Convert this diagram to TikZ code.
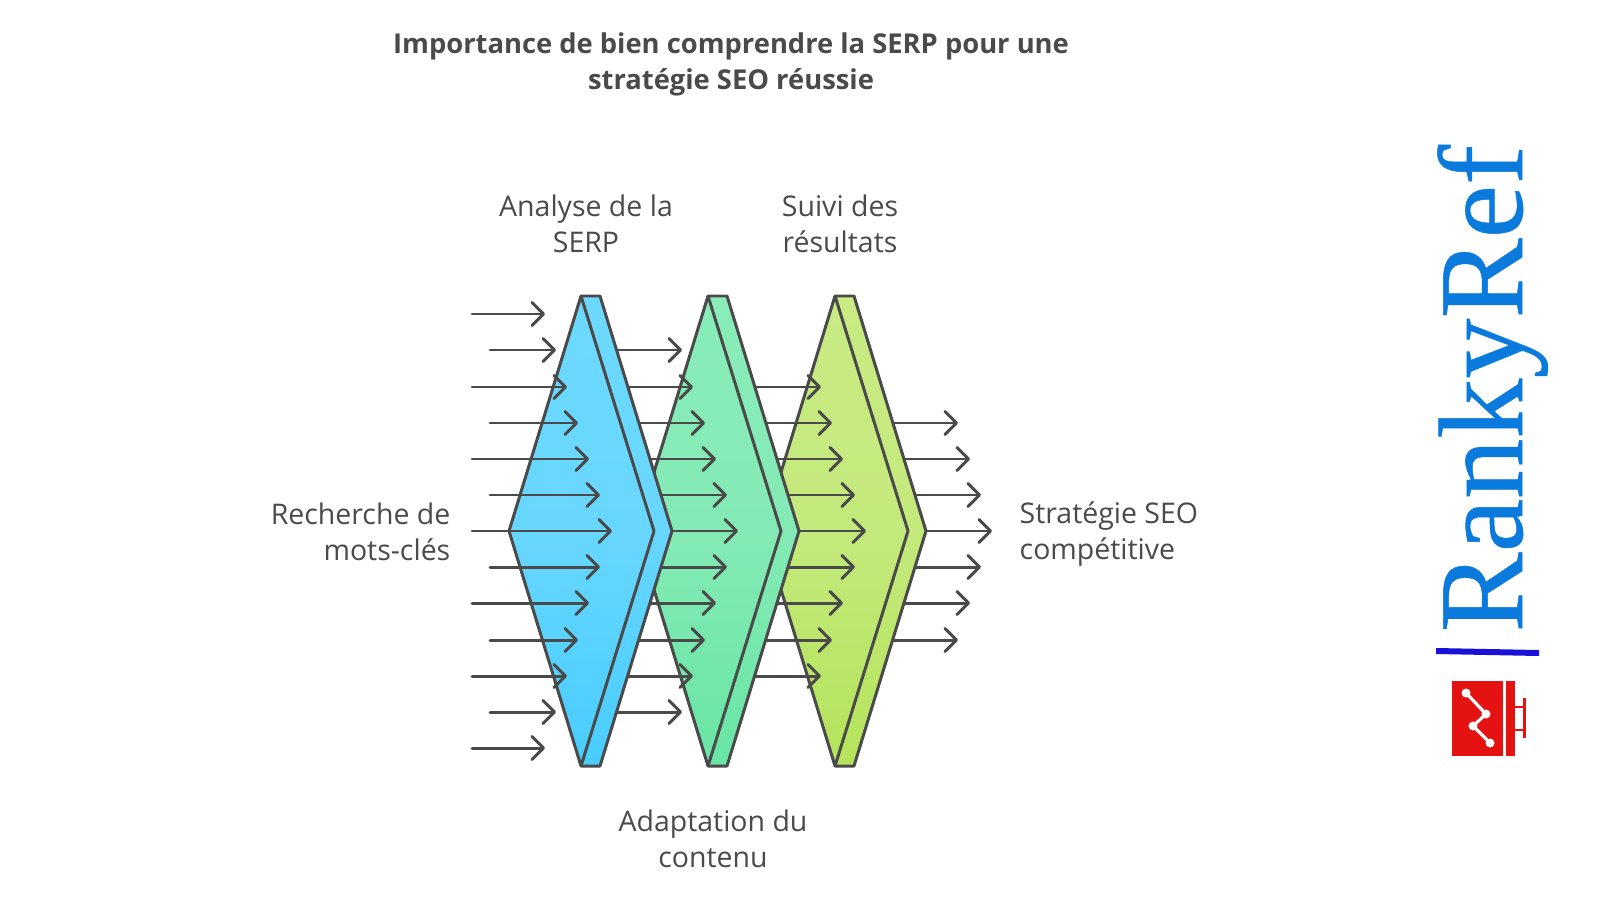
\documentclass[tikz,border=0pt]{standalone}
\usepackage{fontspec}
\usepackage{tikz}
\usetikzlibrary{arrows.meta}
\setmainfont{Open Sans}
\newfontfamily\logofont[FakeBold=0.4]{Liberation Serif}
\definecolor{inkgrey}{HTML}{4A4A4A}
\definecolor{logoblue}{HTML}{0A7BDD}
\definecolor{barblue}{HTML}{1A10D8}
\definecolor{logored}{HTML}{E51212}
\definecolor{panelbluetop}{HTML}{6DD9FF}
\definecolor{panelbluemid}{HTML}{68D7FF}
\definecolor{panelbluebot}{HTML}{48CDFF}
\definecolor{panelgreentop}{HTML}{89ECB9}
\definecolor{panelgreenmid}{HTML}{84EAB5}
\definecolor{panelgreenbot}{HTML}{68E5A5}
\definecolor{panellimetop}{HTML}{C8EB84}
\definecolor{panellimemid}{HTML}{C4E97C}
\definecolor{panellimebot}{HTML}{B4E35A}
\tikzset{
  flow/.style={draw=inkgrey,line width=0.85pt,line cap=round,
    -{Straight Barb[length=1.15mm,width=2.3mm,round]}},
  face/.style={draw=inkgrey,line width=0.85pt,line join=round},
  bluepanel/.style={face,top color=panelbluetop,bottom color=panelbluebot,middle color=panelbluemid},
  greenpanel/.style={face,top color=panelgreentop,bottom color=panelgreenbot,middle color=panelgreenmid},
  limepanel/.style={face,top color=panellimetop,bottom color=panellimebot,middle color=panellimemid},
  label/.style={text=inkgrey,inner sep=0pt,align=center,font=\fontsize{8.1}{10.24}\selectfont},
  heading/.style={text=inkgrey,inner sep=0pt,align=center,font=\fontsize{7.78}{10.24}\selectfont\bfseries}
}
\begin{document}
\begin{tikzpicture}
  \useasboundingbox (0,0) rectangle (16,9);

  \node[heading] (title) at (7.31,8.36) {Importance de bien comprendre la SERP pour une\\strat\'egie SEO r\'eussie};
  \node[label] (analyse) at (5.86,6.76) {Analyse de la\\SERP};
  \node[label] (suivi) at (8.40,6.76) {Suivi des\\r\'esultats};
  \node[label,align=right,anchor=east] (recherche) at (4.51,3.68) {Recherche de\\mots-cl\'es};
  \node[label,align=left,anchor=west] (strategie) at (10.19,3.655) {Strat\'egie SEO\\comp\'etitive};
  \node[label] (adaptation) at (7.13,0.61) {Adaptation du\\contenu};

  % sortie
  \draw[flow] (8.64,4.77) -- (9.58,4.77);
  \draw[flow] (8.64,4.41) -- (9.70,4.41);
  \draw[flow] (8.64,4.05) -- (9.81,4.05);
  \draw[flow] (8.64,3.69) -- (9.92,3.69);
  \draw[flow] (8.64,3.33) -- (9.81,3.33);
  \draw[flow] (8.64,2.97) -- (9.70,2.97);
  \draw[flow] (8.64,2.60) -- (9.58,2.60);

  % panneau 3
  \draw[limepanel] (8.35,6.04) -- (8.54,6.04) -- (9.26,3.69) -- (8.54,1.34) -- (8.35,1.34) -- (7.63,3.69) -- cycle;
  \draw[face] (8.35,6.04) -- (9.08,3.69) -- (8.35,1.34);

  \draw[flow] (7.37,5.13) -- (8.21,5.13);
  \draw[flow] (7.37,4.77) -- (8.32,4.77);
  \draw[flow] (7.37,4.41) -- (8.43,4.41);
  \draw[flow] (7.37,4.05) -- (8.55,4.05);
  \draw[flow] (7.37,3.69) -- (8.66,3.69);
  \draw[flow] (7.37,3.33) -- (8.55,3.33);
  \draw[flow] (7.37,2.97) -- (8.43,2.97);
  \draw[flow] (7.37,2.60) -- (8.32,2.60);
  \draw[flow] (7.37,2.24) -- (8.21,2.24);

  % panneau 2
  \draw[greenpanel] (7.08,6.04) -- (7.27,6.04) -- (7.99,3.69) -- (7.27,1.34) -- (7.08,1.34) -- (6.36,3.69) -- cycle;
  \draw[face] (7.08,6.04) -- (7.81,3.69) -- (7.08,1.34);

  \draw[flow] (6.10,5.50) -- (6.82,5.50);
  \draw[flow] (6.10,5.13) -- (6.93,5.13);
  \draw[flow] (6.10,4.77) -- (7.05,4.77);
  \draw[flow] (6.10,4.41) -- (7.16,4.41);
  \draw[flow] (6.10,4.05) -- (7.27,4.05);
  \draw[flow] (6.10,3.69) -- (7.38,3.69);
  \draw[flow] (6.10,3.33) -- (7.27,3.33);
  \draw[flow] (6.10,2.97) -- (7.16,2.97);
  \draw[flow] (6.10,2.60) -- (7.05,2.60);
  \draw[flow] (6.10,2.24) -- (6.93,2.24);
  \draw[flow] (6.10,1.88) -- (6.82,1.88);

  % panneau 1
  \draw[bluepanel] (5.81,6.04) -- (6.00,6.04) -- (6.72,3.69) -- (6.00,1.34) -- (5.81,1.34) -- (5.09,3.69) -- cycle;
  \draw[face] (5.81,6.04) -- (6.54,3.69) -- (5.81,1.34);

  \draw[flow] (4.72,5.86) -- (5.45,5.86);
  \draw[flow] (4.90,5.50) -- (5.56,5.50);
  \draw[flow] (4.72,5.13) -- (5.67,5.13);
  \draw[flow] (4.90,4.77) -- (5.78,4.77);
  \draw[flow] (4.72,4.41) -- (5.89,4.41);
  \draw[flow] (4.90,4.05) -- (6.00,4.05);
  \draw[flow] (4.72,3.69) -- (6.12,3.69);
  \draw[flow] (4.90,3.33) -- (6.00,3.33);
  \draw[flow] (4.72,2.97) -- (5.89,2.97);
  \draw[flow] (4.90,2.60) -- (5.78,2.60);
  \draw[flow] (4.72,2.24) -- (5.67,2.24);
  \draw[flow] (4.90,1.88) -- (5.56,1.88);
  \draw[flow] (4.72,1.52) -- (5.45,1.52);

  % logo
  \node[rotate=90,anchor=base west,inner sep=0pt,text=logoblue,font=\logofont\fontsize{34.2}{36}\selectfont] (logo) at (15.22,2.67) {RankyRef};
  \fill[barblue] (14.36,2.52) -- (15.39,2.50) -- (15.39,2.44) -- (14.36,2.46) -- cycle;
  \fill[logored] (14.52,1.44) rectangle (15.03,2.19);
  \fill[logored] (15.06,1.44) rectangle (15.15,2.19);
  \fill[logored] (15.23,1.62) rectangle (15.26,2.02);
  \draw[logored,line width=0.8pt] (15.15,1.93) -- (15.23,1.93);
  \draw[logored,line width=0.8pt] (15.15,1.70) -- (15.23,1.70);
  \draw[white,line width=0.9pt] (14.66,2.07) -- (14.86,1.86) -- (14.73,1.74) -- (14.90,1.57);
  \fill[white] (14.66,2.07) circle [radius=0.045];
  \fill[white] (14.86,1.86) circle [radius=0.045];
  \fill[white] (14.73,1.74) circle [radius=0.045];
  \fill[white] (14.90,1.57) circle [radius=0.045];
\end{tikzpicture}
\end{document}
